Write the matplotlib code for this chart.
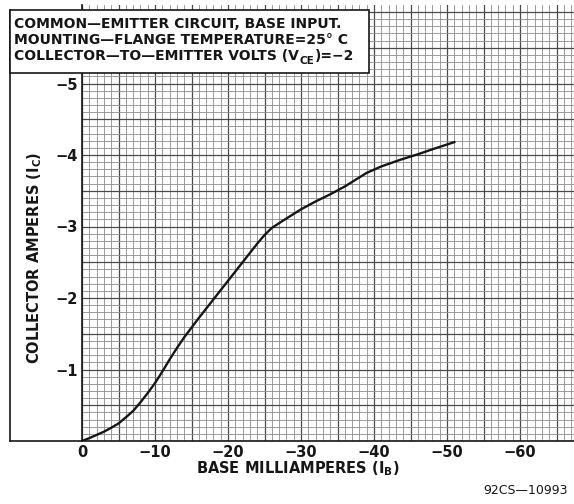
import matplotlib
matplotlib.use("Agg")
import matplotlib.pyplot as plt
from matplotlib.ticker import MultipleLocator, FuncFormatter
from matplotlib.patches import Rectangle
from matplotlib.lines import Line2D
from matplotlib.text import Annotation

# base current (mA) and collector current (A)
base_ma = [0, -1, -2, -3, -4, -5, -6, -7, -8, -9, -10, -11, -12, -13, -14,
           -16, -18, -20, -22, -24, -25, -26, -27.5, -30, -32, -34, -36,
           -39, -41, -43.5, -46, -48, -51]
collector_a = [0, -0.04, -0.085, -0.13, -0.185, -0.245, -0.33, -0.42, -0.54,
               -0.67, -0.81, -0.97, -1.14, -1.30, -1.45, -1.72, -1.98, -2.24,
               -2.50, -2.76, -2.88, -2.98, -3.08, -3.24, -3.35, -3.45, -3.56,
               -3.75, -3.84, -3.93, -4.01, -4.08, -4.18]

title_lines = [
    "COMMON—EMITTER CIRCUIT, BASE INPUT.",
    "MOUNTING—FLANGE TEMPERATURE=25° C",
    "COLLECTOR—TO—EMITTER VOLTS (V",
]
title_sub = "CE"
title_tail = ")=−2"
x_label = "BASE MILLIAMPERES (I$_{\\mathregular{B}}$)"
y_label = "COLLECTOR AMPERES (I$_{\\mathregular{C}}$)"
fig_code = "92CS—10993"

W, H = 574, 504
ink = "#161616"
fig = plt.figure(figsize=(W / 100, H / 100), dpi=100)

# axes placed in pixel terms
x0, y0, x1, y1 = 82, 441, 574, 5
ax = fig.add_axes([x0 / W, 1 - y0 / H, (x1 - x0) / W, (y0 - y1) / H])

ax.plot(base_ma, collector_a, color=ink, lw=1.7, zorder=5)

ax.set_xlim(0, -(x1 - x0) / 7.3)
ax.set_ylim(0, -(y0 - y1) / 71.5)

ax.xaxis.set_major_locator(MultipleLocator(5))
ax.xaxis.set_minor_locator(MultipleLocator(1))
ax.yaxis.set_major_locator(MultipleLocator(0.5))
ax.yaxis.set_minor_locator(MultipleLocator(0.1))


def fmt_x(v, pos):
    if abs(v) < 1e-9:
        return "0"
    if abs(v / 10 - round(v / 10)) < 1e-6 and v > -65:
        return "−%d" % round(-v)
    return ""


def fmt_y(v, pos):
    if abs(v - round(v)) < 1e-6 and -5.5 < v < -0.5:
        return "−%d" % round(-v)
    return ""


ax.xaxis.set_major_formatter(FuncFormatter(fmt_x))
ax.yaxis.set_major_formatter(FuncFormatter(fmt_y))

ax.grid(which="minor", color="#8c8c8c", lw=0.6)
ax.grid(which="major", color="#4a4a4a", lw=0.9)
ax.set_axisbelow(True)

ax.tick_params(which="both", length=0, colors=ink)
ax.tick_params(axis="x", pad=3, labelsize=10.5)
ax.tick_params(axis="y", pad=3, labelsize=10.5)
for lbl in ax.get_xticklabels() + ax.get_yticklabels():
    lbl.set_fontweight("bold")

for s in ["top", "right"]:
    ax.spines[s].set_visible(False)
for s in ["left", "bottom"]:
    ax.spines[s].set_color(ink)
    ax.spines[s].set_linewidth(1.2)

# outer frame on the left
fig.add_artist(Line2D([10 / W, 10 / W], [1 - 441 / H, 1 - 10 / H],
                      color=ink, lw=1.2))
fig.add_artist(Line2D([10 / W, x0 / W], [1 - 441 / H, 1 - 441 / H],
                      color=ink, lw=1.2))

# title box
fig.add_artist(Rectangle((10 / W, 1 - 73 / H), (369 - 10) / W, (73 - 10) / H,
                         facecolor="white", edgecolor=ink, lw=1.2,
                         zorder=10))
texts = []
for i, line in enumerate(title_lines):
    t = fig.text(14 / W, 1 - (28 + 16 * i) / H, line, fontsize=10,
                 fontweight="bold", va="baseline", ha="left", zorder=11,
                 color=ink)
    texts.append(t)

# subscript CE and the rest of the third line, chained after the text
sub = Annotation(title_sub, xy=(1, 0), xycoords=texts[2],
                 xytext=(0.5, -2.5), textcoords="offset points",
                 fontsize=7.5, fontweight="bold", color=ink,
                 va="bottom", ha="left", zorder=11)
fig.add_artist(sub)
tail = Annotation(title_tail, xy=(1, 0), xycoords=sub,
                  xytext=(0.5, 2.5), textcoords="offset points",
                  fontsize=10, fontweight="bold", color=ink,
                  va="bottom", ha="left", zorder=11)
fig.add_artist(tail)

fig.text(298 / W, 1 - 469 / H, x_label, fontsize=10.5, fontweight="bold",
         ha="center", va="center", color=ink)
fig.text(35 / W, 1 - 258 / H, y_label, fontsize=10.5, fontweight="bold",
         ha="center", va="center", rotation=90, color=ink)
fig.text(568 / W, 1 - 491 / H, fig_code, fontsize=9, ha="right",
         va="center", color=ink)

fig.savefig("out.png", dpi=100)
